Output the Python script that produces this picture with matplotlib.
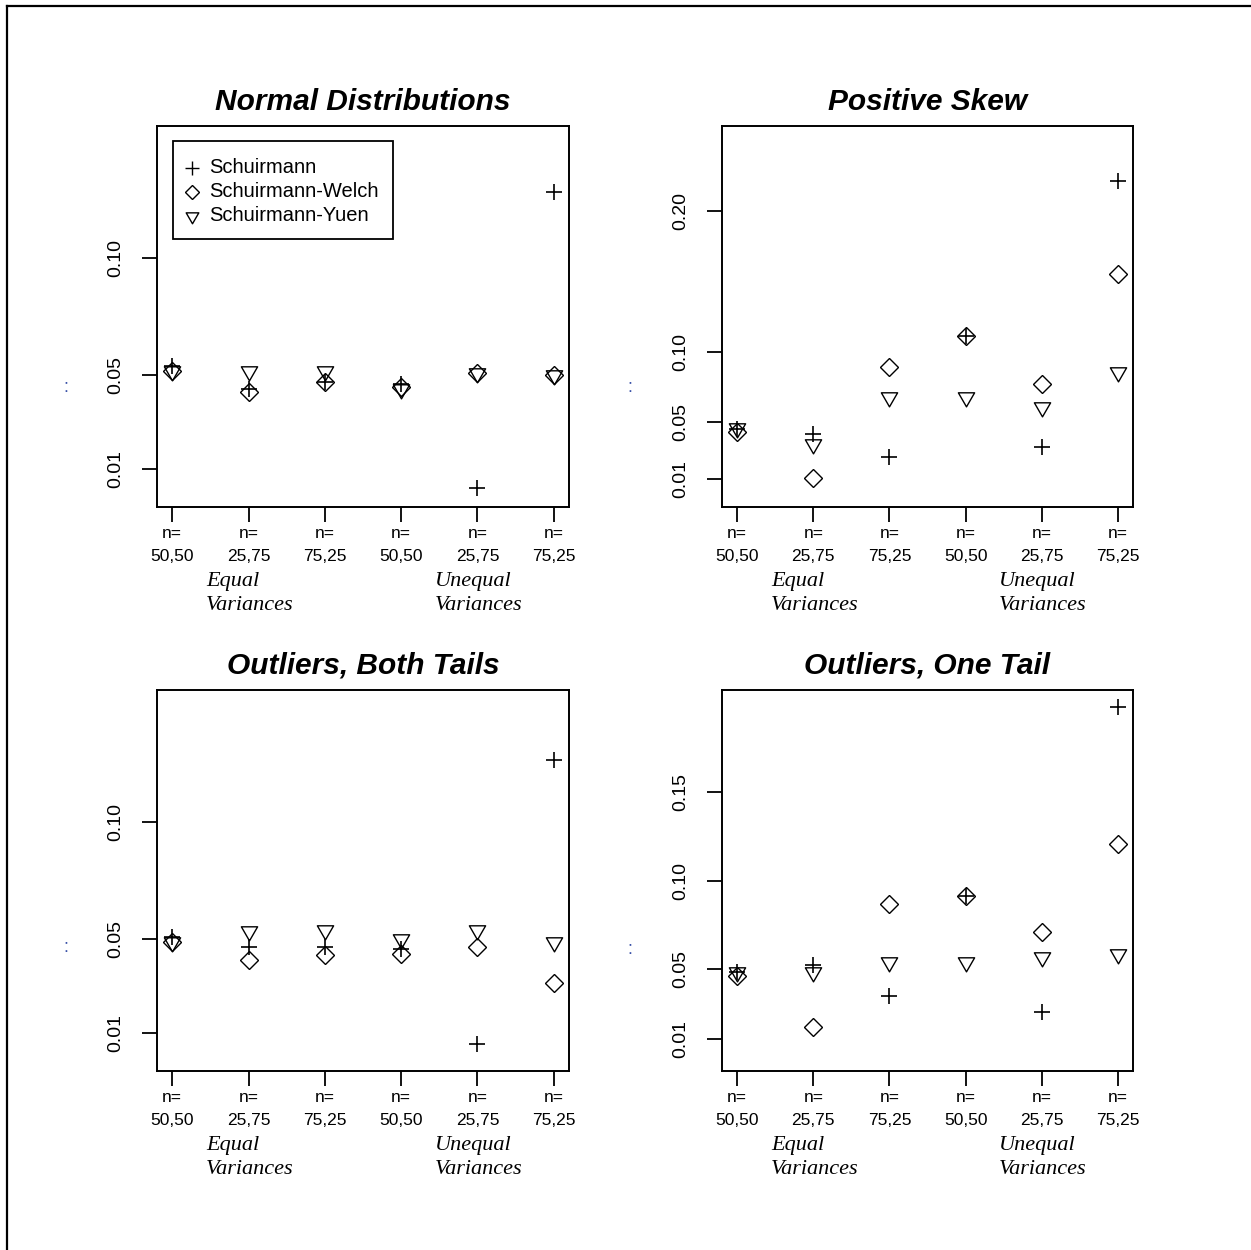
import matplotlib
matplotlib.use("Agg")
import matplotlib.pyplot as plt
from matplotlib.path import Path
from matplotlib.lines import Line2D
from matplotlib.patches import Rectangle
import numpy as np

# ---------------- data ----------------
titles = ["Normal Distributions", "Positive Skew", "Outliers, Both Tails", "Outliers, One Tail"]
methods = ["Schuirmann", "Schuirmann-Welch", "Schuirmann-Yuen"]
positions = [1, 2, 3, 4, 5, 6]
xtick_labels = ["n=\n50,50", "n=\n25,75", "n=\n75,25", "n=\n50,50", "n=\n25,75", "n=\n75,25"]
group_labels = ["Equal\nVariances", "Unequal\nVariances"]
group_positions = [2, 5]

normal_s = [0.054, 0.044, 0.047, 0.0465, 0.0022, 0.128]
normal_w = [0.052, 0.043, 0.047, 0.045, 0.051, 0.050]
normal_y = [0.052, 0.052, 0.052, 0.044, 0.051, 0.050]

skew_s = [0.045, 0.042, 0.0256, 0.111, 0.0324, 0.221]
skew_w = [0.043, 0.0108, 0.0894, 0.111, 0.077, 0.155]
skew_y = [0.046, 0.035, 0.068, 0.068, 0.061, 0.086]

both_s = [0.051, 0.0467, 0.0467, 0.046, 0.0056, 0.1263]
both_w = [0.049, 0.0413, 0.0435, 0.0438, 0.0467, 0.0316]
both_y = [0.049, 0.0535, 0.054, 0.050, 0.054, 0.049]

one_s = [0.048, 0.0523, 0.0348, 0.091, 0.0257, 0.1985]
one_w = [0.046, 0.0172, 0.0867, 0.091, 0.0708, 0.1205]
one_y = [0.048, 0.048, 0.0537, 0.0537, 0.0565, 0.0584]

yticks_normal = [0.01, 0.05, 0.10]
yticks_skew = [0.01, 0.05, 0.10, 0.20]
yticks_both = [0.01, 0.05, 0.10]
yticks_one = [0.01, 0.05, 0.10, 0.15]

ylims = [(0, 0.15), (0, 0.25), (0, 0.15), (0, 0.20)]

# ---------------- figure ----------------
W, H = 1251, 1250
fig = plt.figure(figsize=(W / 100, H / 100), dpi=100)
fig.patch.set_facecolor("white")

# outer frame (left and top)
fig.add_artist(Line2D([7 / W, 7 / W], [0, 1 - 6 / H], transform=fig.transFigure, color="black", lw=1.6))
fig.add_artist(Line2D([7 / W, 1], [1 - 6 / H, 1 - 6 / H], transform=fig.transFigure, color="black", lw=1.6))

tri = Path([(0, -1), (-0.866, 0.5), (0.866, 0.5), (0, -1)],
           [Path.MOVETO, Path.LINETO, Path.LINETO, Path.CLOSEPOLY])

marker_specs = [
    dict(marker="+", ms=12, mew=1.2),
    dict(marker="D", ms=9.0, mew=1.0),
    dict(marker=tri, ms=13.5, mew=1.0),
]

boxes = [(157, 126, 569, 507), (722, 126, 1133, 507),
         (157, 690, 569, 1071), (722, 690, 1133, 1071)]
data = [(normal_s, normal_w, normal_y), (skew_s, skew_w, skew_y),
        (both_s, both_w, both_y), (one_s, one_w, one_y)]
yticks_all = [yticks_normal, yticks_skew, yticks_both, yticks_one]
colon_pos = [(66, 387), (630, 387), (66, 947), (630, 950)]

sans = "Liberation Sans"
serif = "Liberation Serif"

for i in range(4):
    x0, y0, x1, y1 = boxes[i]
    ax = fig.add_axes([x0 / W, 1 - y1 / H, (x1 - x0) / W, (y1 - y0) / H])
    lo, hi = ylims[i]
    pad = 0.04 * (hi - lo)
    ax.set_ylim(lo - pad, hi + pad)
    ax.set_xlim(1 - 0.04 * 5, 6 + 0.04 * 5)
    for series, spec in zip(data[i], marker_specs):
        ax.plot(positions, series, linestyle="none", color="black",
                markerfacecolor="none", markeredgecolor="black", **spec)
    for sp in ax.spines.values():
        sp.set_linewidth(1.4)
    ax.set_xticks(positions)
    ax.set_xticklabels(xtick_labels, fontsize=12.5, family=sans, linespacing=1.7)
    ax.set_yticks(yticks_all[i])
    ax.set_yticklabels([f"{v:.2f}" for v in yticks_all[i]], fontsize=14, family=sans,
                       rotation=90, va="center")
    ax.tick_params(axis="both", length=11, width=1.3, direction="out")
    ax.tick_params(axis="x", pad=2.5)
    ax.tick_params(axis="y", pad=12.5)
    ax.text(0.5, 1 + 16 / (y1 - y0), titles[i], transform=ax.transAxes,
            ha="center", va="baseline", fontsize=21.5, fontweight="bold",
            fontstyle="italic", family=sans)
    for gp, gl in zip(group_positions, group_labels):
        ax.annotate(gl, xy=(gp, 0), xycoords=("data", "axes fraction"),
                    xytext=(-30.5, -62), textcoords="offset points",
                    ha="left", va="center", fontsize=16, fontstyle="italic",
                    family=serif, linespacing=1.35)
    cx, cy = colon_pos[i]
    fig.text(cx / W, 1 - cy / H, ":", color="#3a52a8", fontsize=13, ha="center",
             va="center", family=sans)

    if i == 0:
        # legend box drawn manually
        ax.add_patch(Rectangle((0.038, 0.7034), 0.5355, 0.2572, transform=ax.transAxes,
                               facecolor="white", edgecolor="black", lw=1.3, zorder=5))
        leg_y = [0.8906, 0.8268, 0.7638]
        leg_ms = [10, 7.2, 10.5]
        for name, spec, ly, lms in zip(methods, marker_specs, leg_y, leg_ms):
            ax.plot([0.0842], [ly], transform=ax.transAxes, linestyle="none",
                    marker=spec["marker"], ms=lms, mew=1.0, markerfacecolor="none",
                    markeredgecolor="black", zorder=6, clip_on=False)
            ax.text(0.126, ly, name, transform=ax.transAxes, ha="left", va="center",
                    fontsize=14.5, family=sans, zorder=6)

fig.savefig("out.png", dpi=100, facecolor="white")
